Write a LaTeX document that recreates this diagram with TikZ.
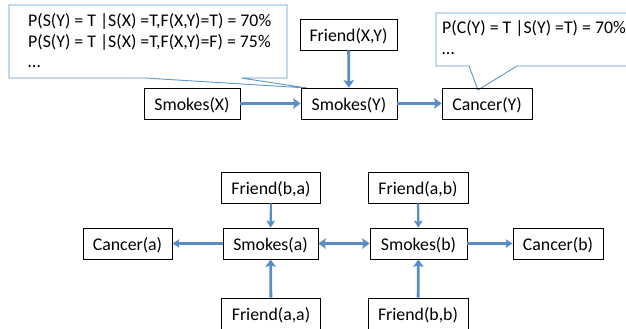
\documentclass[tikz,border=0pt]{standalone}
\usepackage{fontspec}
\setmainfont{Carlito}
\usepackage{tikz}
\usetikzlibrary{arrows.meta}
\definecolor{linkblue}{RGB}{88,141,201}
\definecolor{noteblue}{RGB}{96,148,206}
\tikzset{
  >={Stealth[length=7.5bp, width=10.5bp, inset=1.5bp]},
  box/.style = {draw=black, line width=0.8bp, rectangle, inner sep=0pt,
    minimum height=31bp, text height=14bp, text depth=0bp,
    font=\fontsize{17.8bp}{20.5bp}\selectfont},
  link/.style = {draw=linkblue, line width=2.8bp, ->},
  bilink/.style = {draw=linkblue, line width=3bp, <->},
  thinlink/.style = {draw=linkblue, line width=2.1bp,
    -{Stealth[length=7bp, width=8.5bp, inset=1.3bp]}},
  note/.style = {draw=noteblue, line width=0.9bp, fill=white},
  notetext/.style = {align=left, anchor=north west, inner sep=0pt,
    font=\fontsize{17.8bp}{20.5bp}\selectfont}
}

\begin{document}
\begin{tikzpicture}[x=1bp, y=-1bp]
\useasboundingbox (0,0) rectangle (626,328);
\clip (0,0) rectangle (626,328);

% callouts
\draw[note] (9,5) -- (287,5) -- (287,78) -- (241,78) -- (307,88)
  -- (145,78) -- (9,78) -- cycle;
\node[notetext] (cpt1) at (28,13.5)
  {P(S(Y) = T |S(X) =T,F(X,Y)=T) = 70\%\\P(S(Y) = T |S(X) =T,F(X,Y)=F) = 75\%\\…};
\draw[note] (436,13) -- (640,13) -- (640,66) -- (517,66) -- (478,90)
  -- (469,66) -- (436,66) -- cycle;
\node[notetext] (cpt2) at (442,20.5) {P(C(Y) = T |S(Y) =T) = 70\%\\…};

% template
\node[box, minimum width=96bp] (smx) at (192,103.5) {Smokes(X)};
\node[box, minimum width=96bp] (smy) at (349,103.5) {Smokes(Y)};
\node[box, minimum width=97bp] (fxy) at (348.5,34.5) {Friend(X,Y)};
\node[box, minimum width=90bp] (cy) at (487,103.5) {Cancer(Y)};

\draw[link] (smx) -- (smy);
\draw[link] (fxy) -- (smy);
\draw[link] (smy) -- (cy);

% ground network
\node[box, minimum width=95bp] (sa) at (270.5,243.5) {Smokes(a)};
\node[box, minimum width=89bp] (ca) at (127.5,243.5) {Cancer(a)};
\node[box, minimum width=99bp] (fba) at (271,187.5) {Friend(b,a)};
\node[box, minimum width=99bp] (faa) at (271,313.5) {Friend(a,a)};
\node[box, minimum width=97bp] (sb) at (418.5,243.5) {Smokes(b)};
\node[box, minimum width=90bp] (cb) at (558,243.5) {Cancer(b)};
\node[box, minimum width=100bp] (fab) at (418,187.5) {Friend(a,b)};
\node[box, minimum width=100bp] (fbb) at (418,313.5) {Friend(b,b)};

\draw[thinlink] (sa) -- (ca);
\draw[thinlink] (fba) -- (sa);
\draw[link] (faa) -- (sa);
\draw[bilink] (sa) -- (sb);
\draw[thinlink] (fab) -- (sb);
\draw[link] (fbb) -- (sb);
\draw[thinlink] (sb) -- (cb);
\end{tikzpicture}
\end{document}
